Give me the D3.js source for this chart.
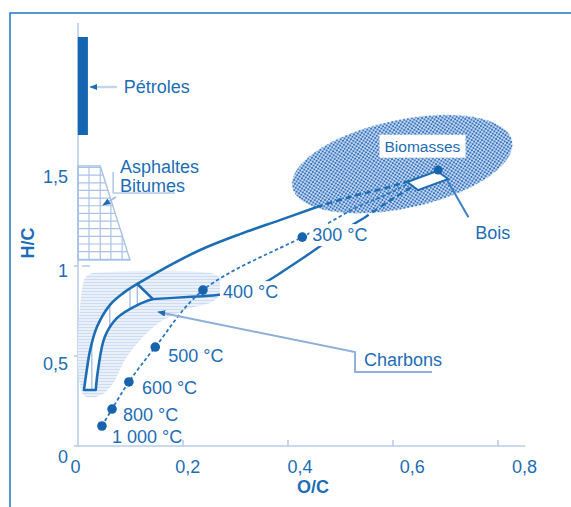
<!DOCTYPE html>
<html>
<head>
<meta charset="utf-8">
<script src="https://cdn.jsdelivr.net/npm/d3@7"></script>
<style>
  html, body { margin: 0; padding: 0; background: #fff; }
  svg { display: block; font-family: "Liberation Sans", Arial, sans-serif; }
</style>
</head>
<body>
<svg id="chart" width="571" height="507"></svg>
<script>
// ---------- data: atomic ratios O/C (x) and H/C (y) ----------
const xTicks = [0, 0.2, 0.4, 0.6, 0.8];
const yTicks = [0, 0.5, 1, 1.5];

// carbonisation of wood: temperature stages
const tempLabels = ["1 000 °C", "800 °C", "600 °C", "500 °C", "400 °C", "300 °C"];
const tempOC = [0.048, 0.066, 0.096, 0.143, 0.228, 0.405];
const tempHC = [0.166, 0.257, 0.402, 0.589, 0.894, 1.178];

// wood (bois) reference point and the route from 300 °C up to it
const boisPoint = [0.647, 1.537];
const routeToBois = [[0.455, 1.259], [0.503, 1.339], [0.553, 1.403], [0.597, 1.468]];
const boisBox = [[0.592, 1.473], [0.645, 1.532], [0.665, 1.489], [0.611, 1.430]];

// petroleum range (O/C span, H/C span)
const petroleOC = [0.005, 0.023];
const petroleHC = [1.725, 2.25];

// asphalts / bitumens domain
const asphalteArea = [[0.005, 1.559], [0.045, 1.559], [0.098, 1.055], [0.005, 1.055]];

// coal band: the two edges, bottom to top
const coalUpper = [[0.016, 0.359], [0.021, 0.466], [0.027, 0.573], [0.039, 0.696],
                   [0.062, 0.814], [0.086, 0.878], [0.111, 0.927]];
const coalLower = [[0.037, 0.359], [0.041, 0.466], [0.053, 0.643], [0.075, 0.745],
                   [0.111, 0.814], [0.139, 0.846]];
// coal cloud (lightly shaded)
const coalCloud = [[0.014, 0.921], [0.023, 0.975], [0.062, 0.991], [0.223, 0.991],
                   [0.255, 0.969], [0.262, 0.905], [0.250, 0.841], [0.196, 0.787],
                   [0.152, 0.723], [0.116, 0.627], [0.089, 0.520], [0.066, 0.386],
                   [0.045, 0.330], [0.016, 0.330]];

// envelopes joining coal to biomass
const envelopeTop = [[0.111, 0.927], [0.160, 1.012], [0.223, 1.109], [0.294, 1.194],
                     [0.365, 1.269], [0.431, 1.339]];
const envelopeTopInside = [[0.431, 1.339], [0.490, 1.393], [0.553, 1.441], [0.613, 1.494]];
const envelopeLow = [[0.139, 0.846], [0.200, 0.857], [0.253, 0.868], [0.303, 0.894],
                     [0.339, 0.937], [0.374, 1.002], [0.422, 1.098], [0.471, 1.200],
                     [0.515, 1.280]];
const envelopeLowInside = [[0.515, 1.280], [0.554, 1.360], [0.606, 1.457]];

// biomass ellipse: centre, half-axes (O/C units, H/C units), tilt in degrees
const biomassCentre = [0.583, 1.569];
const biomassHalfAxes = [0.2, 0.236];
const biomassTilt = -12;

// ---------- layout ----------
const blue = "#1d6db5";
const dark = "#1763ae";
const pale = "#b9cde8";

const svg = d3.select("#chart");
const X = d3.scaleLinear().domain([0, 0.8]).range([75, 524]);
const Y = d3.scaleLinear().domain([0, 1.5]).range([457, 177]);
// the printed frame sits slightly inside the labelled grid
const XF = d3.scaleLinear().domain([0, 0.8]).range([78, 498]);
const YF = d3.scaleLinear().domain([0, 1]).range([446, 266]);

const lin = d3.line().x(d => X(d[0])).y(d => Y(d[1]));
const smooth = d3.line().x(d => X(d[0])).y(d => Y(d[1])).curve(d3.curveCatmullRom.alpha(0.5));

const defs = svg.append("defs");

const ht = defs.append("pattern").attr("id", "halftone")
  .attr("patternUnits", "userSpaceOnUse").attr("width", 4).attr("height", 4);
ht.append("rect").attr("width", 4).attr("height", 4).attr("fill", "#3079c6");
ht.append("circle").attr("cx", 1).attr("cy", 1).attr("r", 0.95).attr("fill", "#fff");
ht.append("circle").attr("cx", 3).attr("cy", 3).attr("r", 0.95).attr("fill", "#fff");

const ch = defs.append("pattern").attr("id", "coalHatch")
  .attr("patternUnits", "userSpaceOnUse").attr("width", 4).attr("height", 3);
ch.append("rect").attr("width", 4).attr("height", 3).attr("fill", "#e9f0f9");
ch.append("rect").attr("width", 4).attr("height", 1).attr("fill", "#cddcf0");

defs.append("filter").attr("id", "soft")
  .append("feGaussianBlur").attr("stdDeviation", 0.6);

defs.append("marker").attr("id", "arrow")
  .attr("markerUnits", "userSpaceOnUse")
  .attr("viewBox", "0 0 10 10").attr("refX", 9).attr("refY", 5)
  .attr("markerWidth", 8).attr("markerHeight", 8).attr("orient", "auto")
  .append("path").attr("d", "M0,1 L10,5 L0,9 z").attr("fill", blue);

defs.append("clipPath").attr("id", "clipAsph")
  .append("path").attr("d", lin(asphalteArea) + "Z");

const bandPath = smooth(coalUpper) + "L" + X(coalLower[coalLower.length - 1][0]) + "," +
  Y(coalLower[coalLower.length - 1][1]) +
  smooth(coalLower.slice().reverse()).replace(/^M/, "L") + "Z";
defs.append("clipPath").attr("id", "clipBand").append("path").attr("d", bandPath);

// outer frame
svg.append("rect").attr("x", 10).attr("y", 13).attr("width", 700).attr("height", 700)
  .attr("fill", "none").attr("stroke", "#1b78c8").attr("stroke-width", 1.5);

// axis frame lines
const frame = svg.append("g").attr("stroke", pale).attr("stroke-width", 1.6).attr("fill", "none");
frame.append("line").attr("x1", XF(0)).attr("x2", XF(0.852)).attr("y1", YF(0)).attr("y2", YF(0));
frame.append("line").attr("x1", XF(0)).attr("x2", XF(0)).attr("y1", YF(0)).attr("y2", YF(2.35));
xTicks.slice(1).forEach(v => frame.append("line")
  .attr("x1", XF(v)).attr("x2", XF(v)).attr("y1", YF(0)).attr("y2", YF(0) - 6));
yTicks.slice(0, 3).forEach(v => frame.append("line")
  .attr("x1", XF(0) - 4).attr("x2", XF(0)).attr("y1", YF(v)).attr("y2", YF(v)));
frame.append("line").attr("x1", XF(0) + 4).attr("x2", XF(0) + 12)
  .attr("y1", YF(1)).attr("y2", YF(1));

// coal cloud
svg.append("path").attr("d", d3.line().x(d => X(d[0])).y(d => Y(d[1]))
    .curve(d3.curveCatmullRomClosed.alpha(0.5))(coalCloud))
  .attr("fill", "url(#coalHatch)").attr("stroke", "none");

// asphalts / bitumens grid
const ag = svg.append("g").attr("clip-path", "url(#clipAsph)")
  .attr("stroke", "#a9c3e6").attr("stroke-width", 1.2);
d3.range(1.059, 1.56, 0.041).forEach(h => ag.append("line")
  .attr("x1", X(0)).attr("x2", X(0.12)).attr("y1", Y(h)).attr("y2", Y(h)));
[0.006, 0.025, 0.045, 0.064, 0.084].forEach(o => ag.append("line")
  .attr("x1", X(o)).attr("x2", X(o)).attr("y1", Y(1.6)).attr("y2", Y(1.0)));
svg.append("path").attr("d", lin(asphalteArea) + "Z")
  .attr("fill", "none").attr("stroke", "#a9c3e6").attr("stroke-width", 1.4);

// petroleum bar
svg.append("rect")
  .attr("x", X(petroleOC[0])).attr("width", X(petroleOC[1]) - X(petroleOC[0]))
  .attr("y", Y(petroleHC[1])).attr("height", Y(petroleHC[0]) - Y(petroleHC[1]))
  .attr("fill", "#1565b3");

// biomass ellipse
svg.append("ellipse")
  .attr("transform", `translate(${X(biomassCentre[0])},${Y(biomassCentre[1])}) rotate(${biomassTilt})`)
  .attr("rx", X(biomassHalfAxes[0]) - X(0)).attr("ry", Y(0) - Y(biomassHalfAxes[1]))
  .attr("fill", "url(#halftone)").attr("filter", "url(#soft)");

// coal band
svg.append("path").attr("d", bandPath).attr("fill", "#fff");
const bh = svg.append("g").attr("clip-path", "url(#clipBand)")
  .attr("stroke", "#9dbbe3").attr("stroke-width", 1.3);
[0.030, 0.062, 0.098, 0.111].forEach(o => bh.append("line")
  .attr("x1", X(o)).attr("x2", X(o)).attr("y1", Y(1.1)).attr("y2", Y(0.2)));
svg.append("path").attr("d", bandPath).attr("fill", "none")
  .attr("stroke", blue).attr("stroke-width", 2.6).attr("stroke-linejoin", "round");

// envelopes
svg.append("path").attr("d", smooth(envelopeTop)).attr("fill", "none")
  .attr("stroke", blue).attr("stroke-width", 2.6);
svg.append("path").attr("d", smooth(envelopeTopInside)).attr("fill", "none")
  .attr("stroke", blue).attr("stroke-width", 2.6).attr("stroke-dasharray", "6,4");
svg.append("path").attr("d", smooth(envelopeLow)).attr("fill", "none")
  .attr("stroke", blue).attr("stroke-width", 2.4);
svg.append("path").attr("d", smooth(envelopeLowInside)).attr("fill", "none")
  .attr("stroke", blue).attr("stroke-width", 2.4).attr("stroke-dasharray", "6,4");

// carbonisation trajectory
const stages = tempOC.map((o, i) => [o, tempHC[i]]);
const trajectory = stages.concat(routeToBois, [boisPoint]);
svg.append("path").attr("d", smooth(trajectory)).attr("fill", "none")
  .attr("stroke", "#2a76c0").attr("stroke-width", 1.8).attr("stroke-dasharray", "3.5,2.5");

// wood box and point
svg.append("path").attr("d", lin(boisBox) + "Z").attr("fill", "#fff")
  .attr("stroke", blue).attr("stroke-width", 2);
svg.append("circle").attr("cx", X(boisPoint[0])).attr("cy", Y(boisPoint[1])).attr("r", 4.5)
  .attr("fill", dark);

// stage dots
svg.selectAll("circle.stage").data(stages).join("circle").attr("class", "stage")
  .attr("cx", d => X(d[0])).attr("cy", d => Y(d[1])).attr("r", 4.8).attr("fill", dark);

// leaders
const leader = (pts, opts) => svg.append("path").attr("d", lin(pts)).attr("fill", "none")
  .attr("stroke", opts.color).attr("stroke-width", opts.w || 2)
  .attr("marker-end", opts.arrow ? "url(#arrow)" : null);
leader([[0.075, 1.982], [0.027, 1.982]], { color: "#c3d4ec", arrow: true, w: 2.4 });
leader([[0.178, 1.414], [0.068, 1.414], [0.068, 1.527]], { color: "#b3c9e7", w: 1.6 });
leader([[0.073, 1.393], [0.050, 1.350]], { color: "#9fbbe2", arrow: true, w: 1.6 });
leader([[0.636, 0.455], [0.499, 0.455], [0.499, 0.562], [0.148, 0.777]],
       { color: "#8eaedb", arrow: true, w: 2 });
leader([[0.701, 1.285], [0.663, 1.484]], { color: "#3d80c4", w: 2 });

// labels
const text = (t, o, h, opts = {}) => {
  const el = svg.append("text").attr("x", X(o) + (opts.dx || 0)).attr("y", Y(h) + (opts.dy || 0))
    .attr("dominant-baseline", "central").attr("text-anchor", opts.anchor || "start")
    .attr("font-size", opts.size || 18).attr("fill", blue)
    .attr("font-weight", opts.weight || "normal").text(t);
  if (opts.box) {
    const b = el.node().getBBox();
    svg.insert("rect", () => el.node())
      .attr("x", b.x - opts.box[0]).attr("y", b.y - opts.box[1])
      .attr("width", b.width + opts.box[0] * 2).attr("height", b.height + opts.box[1] * 2)
      .attr("fill", "#fff");
  }
  return el;
};

const labelOffsets = [[10, 11], [11, 6], [13, 6], [13, 9], [20, 2], [10, -2]];
tempLabels.forEach((t, i) => text(t, tempOC[i], tempHC[i], {
  dx: labelOffsets[i][0], dy: labelOffsets[i][1], box: i >= 4 ? [3, 1] : null
}));

text("Pétroles", 0.087, 1.982);
text("Asphaltes", 0.080, 1.553);
text("Bitumes", 0.080, 1.452);
text("Biomasses", 0.619, 1.665, { anchor: "middle", size: 15.5, box: [5, 3] });
text("Bois", 0.713, 1.200);
text("Charbons", 0.515, 0.520);

// axes labels
const fr = d3.formatLocale({ decimal: ",", thousands: "\u00a0", grouping: [3], currency: ["", " €"] });
const fmt = fr.format("~g");

const gx = svg.append("g").attr("transform", "translate(0,458)")
  .call(d3.axisBottom(X).tickValues(xTicks).tickSize(0).tickPadding(2).tickFormat(fmt));
const gy = svg.append("g").attr("transform", "translate(70,0)")
  .call(d3.axisLeft(Y).tickValues(yTicks).tickSize(0).tickPadding(2).tickFormat(fmt));
[gx, gy].forEach(g => {
  g.select(".domain").remove();
  g.attr("font-family", null).attr("font-size", null);
  g.selectAll("text").attr("font-size", 18).attr("fill", blue);
});

svg.append("text").attr("x", 313).attr("y", 487).attr("text-anchor", "middle")
  .attr("dominant-baseline", "central").attr("font-size", 18).attr("font-weight", "bold")
  .attr("fill", blue).text("O/C");
svg.append("text").attr("transform", "translate(28,243) rotate(-90)").attr("text-anchor", "middle")
  .attr("dominant-baseline", "central").attr("font-size", 18).attr("font-weight", "bold")
  .attr("fill", blue).text("H/C");
</script>
</body>
</html>
